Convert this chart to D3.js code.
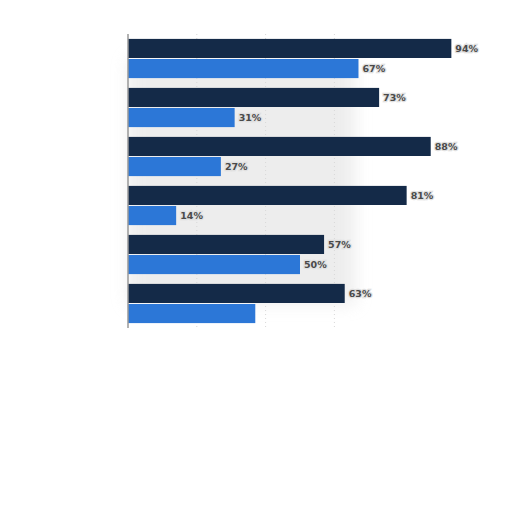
<!DOCTYPE html>
<html>
<head>
<meta charset="utf-8">
<script src="https://cdn.jsdelivr.net/npm/d3@7"></script>
<style>
  body { margin: 0; background: #fff; }
  svg { display: block; }
</style>
</head>
<body>
<div class="center"></div>
<script>
// chart data
const groups = ["A", "B", "C", "D", "E", "F"];
const series = ["dark", "blue"];
const darkValues = [94, 73, 88, 81, 57, 63];
const blueValues = [67, 31, 27, 14, 50, 37];
const darkLabels = ["94%", "73%", "88%", "81%", "57%", "63%"];
const blueLabels = ["67%", "31%", "27%", "14%", "50%", ""];
const gridTicks = [20, 40, 60];

const width = 512, height = 512;
const margin = {top: 34, left: 128, right: 40, bottom: 184};

const colors = {dark: "#142a48", blue: "#2c77d7"};

const svg = d3.select(".center").append("svg")
    .attr("width", width)
    .attr("height", height);

const xScale = d3.scaleLinear()
    .domain([0, 100])
    .range([margin.left, width - margin.right]);

const yScale = d3.scaleBand()
    .domain(groups)
    .range([margin.top, height - margin.bottom])
    .paddingInner(0.2)
    .paddingOuter(0.1);

const ySub = d3.scaleBand()
    .domain(series)
    .range([0, yScale.bandwidth()])
    .paddingInner(0.05);

// soft grey smudge behind the bars
const defs = svg.append("defs");
defs.append("filter").attr("id", "blur")
    .append("feGaussianBlur").attr("stdDeviation", 8);

svg.append("rect")
    .attr("x", xScale(0))
    .attr("y", yScale("A") + ySub("blue"))
    .attr("width", xScale(66) - xScale(0))
    .attr("height", yScale("F") - yScale("A"))
    .attr("fill", "#e2e2e2")
    .attr("opacity", 0.6)
    .attr("filter", "url(#blur)");

// gridlines
svg.selectAll(".grid")
    .data(gridTicks)
    .enter().append("line")
    .attr("x1", d => xScale(d))
    .attr("x2", d => xScale(d))
    .attr("y1", margin.top)
    .attr("y2", height - margin.bottom)
    .attr("stroke", "#d8d8d8")
    .attr("stroke-width", 1)
    .attr("stroke-dasharray", "1,3");

const rows = groups.map((g, i) => ({
    g: g,
    bars: [
        {s: "dark", v: darkValues[i], label: darkLabels[i]},
        {s: "blue", v: blueValues[i], label: blueLabels[i]}
    ]
}));

const grp = svg.selectAll(".row")
    .data(rows)
    .enter().append("g")
    .attr("transform", d => `translate(0,${yScale(d.g)})`);

grp.selectAll("rect")
    .data(d => d.bars)
    .enter().append("rect")
    .attr("x", xScale(0))
    .attr("y", d => ySub(d.s))
    .attr("width", d => xScale(d.v) - xScale(0))
    .attr("height", ySub.bandwidth())
    .attr("fill", d => colors[d.s]);

grp.selectAll("text")
    .data(d => d.bars.filter(b => b.label))
    .enter().append("text")
    .attr("x", d => xScale(d.v) + 4)
    .attr("y", d => ySub(d.s) + ySub.bandwidth() / 2)
    .attr("dy", "0.35em")
    .attr("font-family", "DejaVu Sans, sans-serif")
    .attr("font-size", "9.5px")
    .attr("font-weight", "700")
    .attr("fill", "#4a4a4a")
    .attr("stroke", "#e0e0e0")
    .attr("stroke-width", 2.5)
    .attr("paint-order", "stroke")
    .text(d => d.label);

// y axis line
svg.append("line")
    .attr("x1", xScale(0))
    .attr("x2", xScale(0))
    .attr("y1", margin.top)
    .attr("y2", height - margin.bottom)
    .attr("stroke", "#999")
    .attr("stroke-width", 1.5);
</script>
</body>
</html>
